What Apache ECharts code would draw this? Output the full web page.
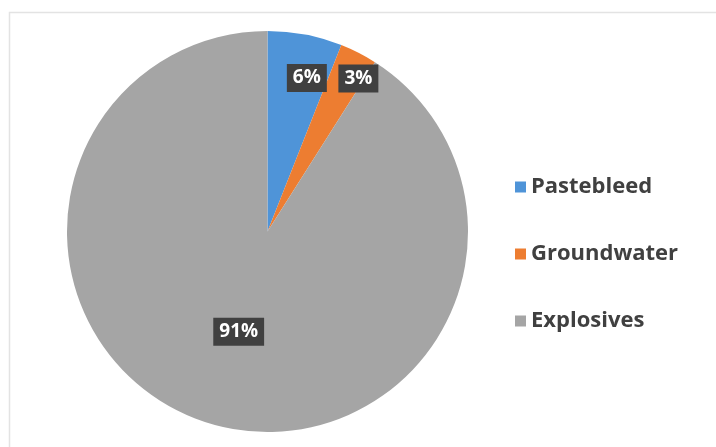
<!DOCTYPE html>
<html>
<head>
<meta charset="utf-8">
<script src="https://cdn.jsdelivr.net/npm/echarts@6/dist/echarts.min.js"></script>
<style>
  html, body { margin: 0; padding: 0; background: #ffffff; }
  #chart { width: 716px; height: 447px; }
</style>
</head>
<body>
<div id="chart"></div>
<script>
// Share of sources
const categories = ['Pastebleed', 'Groundwater', 'Explosives'];
const shares = [6, 3, 91];
const sliceColors = ['#4f94d8', '#ed7d31', '#a5a5a5'];

// Nudge for the two narrow slices so their labels sit near the rim
const labelNudge = [[20, -52], [44, -61], [0, 1]];

const chart = echarts.init(document.getElementById('chart'), null, { renderer: 'canvas' });

chart.setOption({
  backgroundColor: '#ffffff',
  animation: false,
  graphic: [{
    type: 'rect',
    shape: { x: 9.5, y: 12.5, width: 760, height: 480 },
    style: { fill: 'none', stroke: '#e3e3e3', lineWidth: 1.5 },
    silent: true
  }],
  legend: {
    orient: 'vertical',
    left: 510,
    top: 171,
    itemWidth: 11,
    itemHeight: 11,
    itemGap: 45,
    icon: 'rect',
    data: categories,
    textStyle: {
      fontFamily: 'Open Sans',
      fontWeight: 'bold',
      fontSize: 22,
      color: '#404040',
      padding: [0, 0, 0, 0]
    }
  },
  series: [{
    type: 'pie',
    center: [267.5, 231.5],
    radius: [0, 200.5],
    startAngle: 90,
    clockwise: true,
    silent: true,
    itemStyle: { borderWidth: 0 },
    label: {
      show: true,
      position: 'inside',
      formatter: '{c}%',
      color: '#ffffff',
      fontFamily: 'Open Sans',
      fontWeight: 'bold',
      fontSize: 19,
      backgroundColor: '#404040',
      padding: [5, 6, 4, 6]
    },
    labelLine: { show: false },
    labelLayout: function (params) {
      const n = labelNudge[params.dataIndex];
      return { dx: n[0], dy: n[1] };
    },
    data: categories.map(function (name, i) {
      return { name: name, value: shares[i], itemStyle: { color: sliceColors[i] } };
    })
  }]
});
</script>
</body>
</html>
